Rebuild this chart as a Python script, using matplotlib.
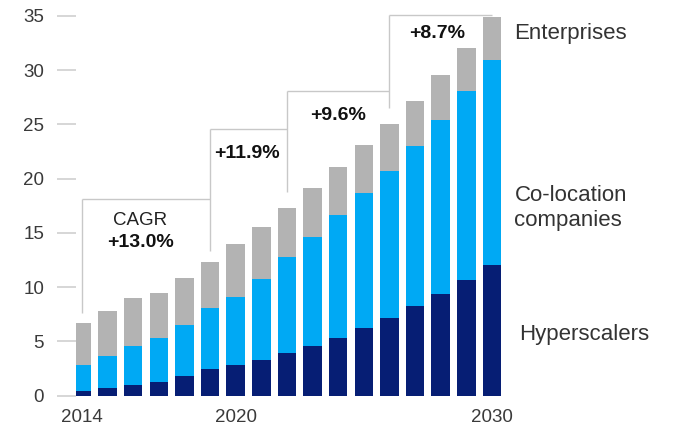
import matplotlib
matplotlib.use("Agg")
import matplotlib.pyplot as plt
import numpy as np

plt.rcParams['font.family'] = ['Liberation Sans', 'DejaVu Sans']

years = list(range(2014, 2031))
hyperscalers = [0.45, 0.67, 0.97, 1.25, 1.80, 2.45, 2.80, 3.29, 3.90, 4.55, 5.32, 6.18, 7.15, 8.22, 9.37, 10.63, 12.00]
colocation = [2.35, 2.93, 3.61, 4.01, 4.70, 5.59, 6.27, 7.43, 8.83, 10.03, 11.33, 12.54, 13.57, 14.76, 16.03, 17.41, 18.90]
enterprises = [3.85, 4.16, 4.42, 4.17, 4.30, 4.29, 4.93, 4.78, 4.57, 4.52, 4.41, 4.38, 4.28, 4.17, 4.12, 4.01, 3.96]
series_names = ["Hyperscalers", "Co-location\ncompanies", "Enterprises"]
colors = ["#061E74", "#00A9F4", "#B3B3B3"]
y_ticks = [0, 5, 10, 15, 20, 25, 30, 35]
x_tick_years = [2014, 2020, 2030]
cagr_labels = ["+13.0%", "+11.9%", "+9.6%", "+8.7%"]

fig = plt.figure(figsize=(6.82, 4.29), dpi=100)
ax = fig.add_axes([76/682, (429-395.5)/429, (505-76)/682, (395.5-13.8)/429])

x = np.array(years)
b1 = np.array(hyperscalers)
b2 = np.array(colocation)
b3 = np.array(enterprises)
ax.bar(x, b1, width=0.72, color=colors[0], linewidth=0)
ax.bar(x, b2, width=0.72, bottom=b1, color=colors[1], linewidth=0)
ax.bar(x, b3, width=0.72, bottom=b1 + b2, color=colors[2], linewidth=0)

ax.set_xlim(2013.766, 2030.51)
ax.set_ylim(0, 35.2)

for s in ax.spines.values():
    s.set_visible(False)

ax.set_yticks(y_ticks)
ax.set_yticklabels([str(v) for v in y_ticks])
ax.tick_params(axis='y', length=14, width=1.2, color='#cfcfcf', pad=9,
               labelsize=13.5, labelcolor='#3a3a3a')
ax.set_xticks(x_tick_years)
ax.set_xticklabels([str(v) for v in x_tick_years])
ax.tick_params(axis='x', length=0, pad=10, labelsize=13.5, labelcolor='#3a3a3a')

lc = '#c8c8c8'
lw = 1.0
segs = [
    ([2014, 2014], [7.6, 18.1]),
    ([2014, 2019], [18.1, 18.1]),
    ([2019, 2019], [13.3, 24.6]),
    ([2019, 2022], [24.6, 24.6]),
    ([2022, 2022], [18.8, 28.1]),
    ([2022, 2026], [28.1, 28.1]),
    ([2026, 2026], [26.5, 35.1]),
    ([2026, 2030], [35.1, 35.1]),
]
for xs, ys in segs:
    ax.plot(xs, ys, color=lc, lw=lw, clip_on=False, solid_capstyle='butt')

ax.text(2016.27, 16.1, "CAGR", ha='center', va='center', fontsize=13.5, color='#222222')
ax.text(2016.27, 14.15, cagr_labels[0], ha='center', va='center', fontsize=14,
        fontweight='bold', color='#111111')
ax.text(2020.45, 22.3, cagr_labels[1], ha='center', va='center', fontsize=14,
        fontweight='bold', color='#111111')
ax.text(2024.0, 25.8, cagr_labels[2], ha='center', va='center', fontsize=14,
        fontweight='bold', color='#111111')
ax.text(2027.86, 33.4, cagr_labels[3], ha='center', va='center', fontsize=14,
        fontweight='bold', color='#111111')

ax.text(2030.86, 33.4, series_names[2], ha='left', va='center', fontsize=16,
        color='#333333', clip_on=False)
ax.text(2030.88, 17.3, series_names[1], ha='left', va='center', fontsize=16,
        color='#333333', clip_on=False, linespacing=1.2)
ax.text(2031.07, 5.58, series_names[0], ha='left', va='center', fontsize=16,
        color='#333333', clip_on=False)

fig.savefig("out.png", dpi=100)
